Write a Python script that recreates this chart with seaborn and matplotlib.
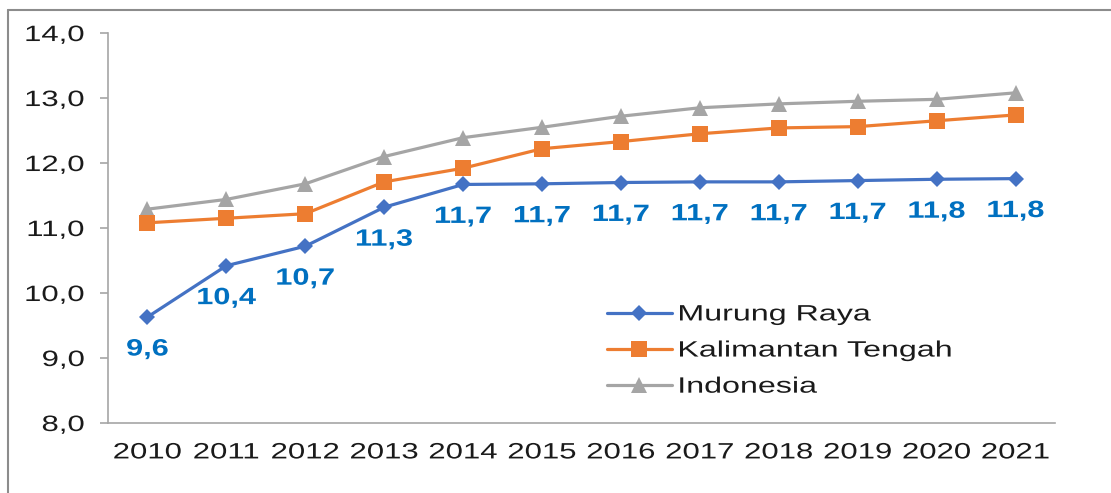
import numpy as np
import pandas as pd
import matplotlib
matplotlib.use("Agg")
import matplotlib.pyplot as plt
from matplotlib.lines import Line2D
from matplotlib.patheffects import AbstractPathEffect
from matplotlib.transforms import Affine2D
from matplotlib.ticker import FixedLocator, FuncFormatter
import seaborn as sns

# ---- data ----
years = ["2010", "2011", "2012", "2013", "2014", "2015",
         "2016", "2017", "2018", "2019", "2020", "2021"]
murung_raya = [9.63, 10.42, 10.72, 11.32, 11.67, 11.68, 11.70, 11.71, 11.71, 11.73, 11.75, 11.76]
kalteng = [11.08, 11.15, 11.22, 11.71, 11.92, 12.22, 12.33, 12.45, 12.54, 12.56, 12.65, 12.74]
indonesia = [11.29, 11.44, 11.68, 12.10, 12.39, 12.55, 12.72, 12.85, 12.91, 12.95, 12.98, 13.08]
series_names = ["Murung Raya", "Kalimantan Tengah", "Indonesia"]
colors = ["#4472C4", "#ED7D31", "#A5A5A5"]


class HStretch(AbstractPathEffect):
    """Widen glyphs horizontally (the source chart has wide, stretched text)."""

    def __init__(self, sx, anchor=0.5):
        super().__init__()
        self.sx = sx
        self.anchor = anchor

    def draw_path(self, renderer, gc, tpath, affine, rgbFace=None):
        ext = tpath.get_extents()
        cx = ext.x0 + self.anchor * ext.width
        t = Affine2D().translate(-cx, 0).scale(self.sx, 1).translate(cx, 0) + affine
        renderer.draw_path(gc, tpath, t, rgbFace)


df = pd.DataFrame({
    "idx": list(range(len(years))) * 3,
    "value": murung_raya + kalteng + indonesia,
    "series": np.repeat(series_names, len(years)),
})

sns.set_style("white")
plt.rcParams["font.family"] = ["Liberation Sans", "DejaVu Sans"]

fig = plt.figure(figsize=(11.11, 4.93), dpi=100)
ax = fig.add_axes([0.0972, 0.142, 0.8524, 0.791])

markers = {"Murung Raya": "D", "Kalimantan Tengah": "s", "Indonesia": "^"}
sizes = {"Murung Raya": 8, "Kalimantan Tengah": 11, "Indonesia": 11}
# draw back to front so Murung Raya sits on top
for name, col in list(zip(series_names, colors))[::-1]:
    sub = df[df["series"] == name]
    sns.lineplot(data=sub, x="idx", y="value", color=col, marker=markers[name],
                 markersize=sizes[name], markeredgewidth=0, linewidth=2.3,
                 ax=ax, legend=False)

# data labels for Murung Raya
for i, v in enumerate(murung_raya):
    ax.annotate(f"{v:.1f}".replace(".", ","), (i, v), xytext=(0, -23),
                textcoords="offset points", ha="center", va="center",
                fontsize=17, fontweight="bold", color="#0070C0",
                path_effects=[HStretch(1.3, 0.5)])

ax.set_xlim(-0.5, len(years) - 0.5)
ax.set_ylim(8, 14)
ax.set_yticks(np.arange(8, 14.01, 1))
ax.yaxis.set_major_formatter(FuncFormatter(lambda v, p: f"{v:.1f}".replace(".", ",")))
ax.set_xticks(range(len(years)))
ax.set_xticklabels(years)
ax.xaxis.set_minor_locator(FixedLocator(np.arange(-0.5, len(years), 1)))
ax.tick_params(axis="x", which="major", length=0, pad=14, labelsize=16, colors="#1a1a1a")
ax.tick_params(axis="x", which="minor", length=6, width=1.2, color="#A6A6A6", direction="out")
ax.tick_params(axis="y", which="major", length=6, width=1.2, color="#A6A6A6", pad=11,
               labelsize=16, labelcolor="#1a1a1a", direction="out", left=True)
ax.set_xlabel("")
ax.set_ylabel("")
for s in ["top", "right"]:
    ax.spines[s].set_visible(False)
for s in ["left", "bottom"]:
    ax.spines[s].set_color("#A6A6A6")
    ax.spines[s].set_linewidth(1.2)

for lbl in ax.get_xticklabels():
    lbl.set_path_effects([HStretch(1.4, 0.5)])
for lbl in ax.get_yticklabels():
    lbl.set_path_effects([HStretch(1.4, 1.0)])

handles = [Line2D([0], [0], color=c, linewidth=2.3, marker=markers[n],
                  markersize=sizes[n], markeredgewidth=0)
           for n, c in zip(series_names, colors)]
leg = ax.legend(handles, series_names, loc="upper left", bbox_to_anchor=(0.527, 0.304),
                frameon=False, fontsize=16, handlelength=2.9, handletextpad=0.3,
                labelspacing=0.68, borderaxespad=0, borderpad=0)
for t in leg.get_texts():
    t.set_color("#1a1a1a")
    t.set_path_effects([HStretch(1.45, 0.0)])

# outer chart border (cut off at right and bottom)
fig.add_artist(Line2D([8 / 1111, 1.0], [1 - 10 / 493, 1 - 10 / 493],
                      transform=fig.transFigure, color="#8C8C8C", linewidth=1.5))
fig.add_artist(Line2D([8 / 1111, 8 / 1111], [0.0, 1 - 10 / 493],
                      transform=fig.transFigure, color="#8C8C8C", linewidth=1.5))

fig.savefig("out.png", dpi=100)
